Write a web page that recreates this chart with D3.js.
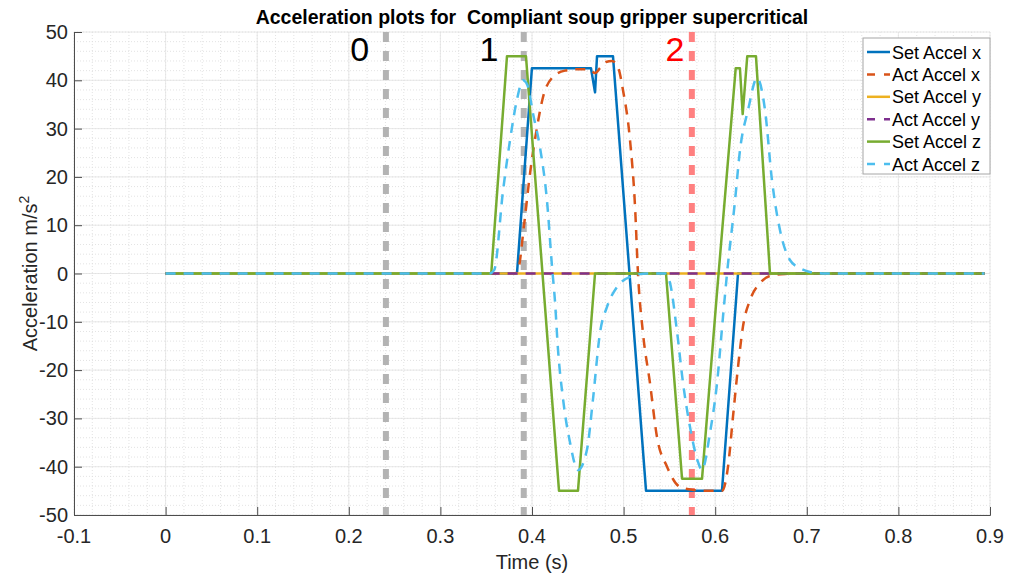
<!DOCTYPE html>
<html>
<head>
<meta charset="utf-8">
<script src="https://cdn.jsdelivr.net/npm/d3@7"></script>
<style>
  html, body { margin: 0; padding: 0; background: #fff; }
  svg { display: block; font-family: "Liberation Sans", Arial, sans-serif; }
</style>
</head>
<body>
<svg id="chart" width="1009" height="574"></svg>
<script>
// Time axis and acceleration axis tick values
const xTicks = [-0.1, 0, 0.1, 0.2, 0.3, 0.4, 0.5, 0.6, 0.7, 0.8, 0.9];
const yTicks = [-50, -40, -30, -20, -10, 0, 10, 20, 30, 40, 50];

// Commanded acceleration, x axis: [time s, accel m/s^2]
const setAccelX = [
  [0, 0], [0.3836, 0], [0.3999, 42.5], [0.4644, 42.5], [0.4688, 37.5],
  [0.4710, 45], [0.4884, 45], [0.5245, -45], [0.6074, -45], [0.6249, 0], [0.894, 0]
];
// Measured acceleration, x axis
const actAccelX = [
  [0, 0], [0.3815, 0], [0.3848, 0.7], [0.3913, 10], [0.3979, 20.8], [0.4055, 30.3],
  [0.4120, 36.5], [0.4229, 40.7], [0.4360, 42], [0.4523, 42.3], [0.4633, 42.2],
  [0.4688, 41.5], [0.4742, 42.5], [0.4808, 43.8], [0.4873, 44], [0.4939, 42.7],
  [0.4993, 38], [0.5070, 27.6], [0.5125, 13.8], [0.5157, 0], [0.5212, -12.4],
  [0.5288, -22.7], [0.5364, -33.8], [0.5474, -40], [0.5616, -44.2], [0.5757, -44.8],
  [0.5943, -45], [0.6074, -45], [0.6140, -40], [0.6194, -29.7], [0.6249, -19.4],
  [0.6303, -11], [0.6380, -5.5], [0.6489, -2], [0.6598, -0.5], [0.6762, -0.1],
  [0.6926, 0], [0.894, 0]
];
// Commanded and measured acceleration, y axis (no motion)
const setAccelY = [[0, 0], [0.894, 0]];
const actAccelY = [[0, 0], [0.894, 0]];
// Commanded acceleration, z axis
const setAccelZ = [
  [0, 0], [0.3555, 0], [0.3727, 45], [0.3934, 45], [0.4295, -45], [0.4502, -45],
  [0.4688, 0], [0.5463, 0], [0.5638, -42.5], [0.5856, -42.5], [0.6015, -5],
  [0.6224, 42.5], [0.6270, 42.5], [0.6300, 33], [0.6350, 45], [0.6445, 45],
  [0.6598, 0], [0.894, 0]
];
// Measured acceleration, z axis
const actAccelZ = [
  [0, 0], [0.3535, 0], [0.3587, 0.7], [0.3683, 17], [0.3760, 27.6], [0.3836, 36],
  [0.3901, 40], [0.3950, 39], [0.4012, 33], [0.4088, 26], [0.4164, 15], [0.4219, 1.3],
  [0.4250, -5.5], [0.4284, -15.8], [0.4339, -26], [0.4415, -35], [0.4502, -40.7],
  [0.4600, -36.5], [0.4666, -26], [0.4742, -12.3], [0.4819, -6.9], [0.4928, -2.8],
  [0.5070, -0.7], [0.5256, 0], [0.5452, 0], [0.5507, -2], [0.5583, -12],
  [0.5649, -22.7], [0.5725, -31.8], [0.5812, -39], [0.5856, -40.7], [0.5943, -33],
  [0.6020, -22.7], [0.6085, -9], [0.6129, 0], [0.6216, 15], [0.6271, 25.6],
  [0.6358, 33.8], [0.6457, 40.5], [0.6544, 33.8], [0.6620, 19.3], [0.6707, 9],
  [0.6816, 2.8], [0.6926, 1.1], [0.7035, 0.3], [0.7199, 0], [0.894, 0]
];

// Event markers and their numbered labels
const eventTimes = [0.2405, 0.391, 0.5745];
const eventLabelTimes = [0.212, 0.353, 0.556];
const eventLabels = ["0", "1", "2"];

const seriesNames = ["Set Accel x", "Act Accel x", "Set Accel y", "Act Accel y", "Set Accel z", "Act Accel z"];
const seriesData = [setAccelX, actAccelX, setAccelY, actAccelY, setAccelZ, actAccelZ];
const seriesColors = ["#0072BD", "#D95319", "#EDB120", "#7E2F8E", "#77AC30", "#4DBEEE"];
const seriesDashed = [false, true, false, true, false, true];
const seriesSmooth = [false, true, false, false, false, true];

const svg = d3.select("#chart");
const pL = 74, pR = 990, pT = 32, pB = 515;

const x = d3.scaleLinear().domain([-0.1, 0.9]).range([pL, pR]);
const y = d3.scaleLinear().domain([-50, 50]).range([pB, pT]);

const grid = svg.append("g");
// minor grid
const xMinor = d3.range(-0.1, 0.9001, 0.02).map(v => +v.toFixed(3));
const yMinor = d3.range(-50, 50.001, 2);
grid.selectAll(".xm").data(xMinor).enter().append("line")
  .attr("x1", d => x(d)).attr("x2", d => x(d)).attr("y1", pT).attr("y2", pB)
  .attr("stroke", "#dcdcdc").attr("stroke-width", 0.8).attr("stroke-dasharray", "1,2");
grid.selectAll(".ym").data(yMinor).enter().append("line")
  .attr("y1", d => y(d)).attr("y2", d => y(d)).attr("x1", pL).attr("x2", pR)
  .attr("stroke", "#dcdcdc").attr("stroke-width", 0.8).attr("stroke-dasharray", "1,2");
// major grid
grid.selectAll(".xM").data(xTicks).enter().append("line")
  .attr("x1", d => x(d)).attr("x2", d => x(d)).attr("y1", pT).attr("y2", pB)
  .attr("stroke", "#e2e2e2").attr("stroke-width", 0.8);
grid.selectAll(".yM").data(yTicks).enter().append("line")
  .attr("y1", d => y(d)).attr("y2", d => y(d)).attr("x1", pL).attr("x2", pR)
  .attr("stroke", "#e2e2e2").attr("stroke-width", 0.8);

// axes with inward ticks
const fmt = d => (d === 0 ? "0" : String(+d.toFixed(2)));
const xAxis = svg.append("g").attr("transform", `translate(0,${pB})`)
  .call(d3.axisTop(x).tickValues(xTicks).tickSize(8).tickFormat(""));
const yAxis = svg.append("g").attr("transform", `translate(${pL},0)`)
  .call(d3.axisRight(y).tickValues(yTicks).tickSize(8).tickFormat(""));
[xAxis, yAxis].forEach(g => {
  g.select(".domain").attr("stroke", "#4d4d4d").attr("stroke-width", 1);
  g.selectAll(".tick line").attr("stroke", "#4d4d4d").attr("stroke-width", 1);
});
svg.append("g").selectAll("text").data(xTicks).enter().append("text")
  .attr("x", d => x(d)).attr("y", pB + 28).attr("text-anchor", "middle")
  .attr("font-size", 20).attr("fill", "#262626").text(fmt);
svg.append("g").selectAll("text").data(yTicks).enter().append("text")
  .attr("x", pL - 6).attr("y", d => y(d) + 7).attr("text-anchor", "end")
  .attr("font-size", 20).attr("fill", "#262626").text(d => String(d));

// event marker lines
const plotArea = svg.append("g");
plotArea.selectAll(".ev").data(eventTimes).enter().append("line")
  .attr("x1", d => x(d)).attr("x2", d => x(d)).attr("y1", pT).attr("y2", pB)
  .attr("stroke", (d, i) => i === 2 ? "#ff8080" : "#b3b3b3")
  .attr("stroke-width", 6).attr("stroke-dasharray", "10,9");

// data lines
seriesData.forEach((data, i) => {
  const line = d3.line().x(d => x(d[0])).y(d => y(d[1]))
    .curve(seriesSmooth[i] ? d3.curveMonotoneX : d3.curveLinear);
  plotArea.append("path").datum(data)
    .attr("d", line).attr("fill", "none")
    .attr("stroke", seriesColors[i]).attr("stroke-width", 2.5)
    .attr("stroke-linejoin", "round")
    .attr("stroke-dasharray", seriesDashed[i] ? "10,8" : null);
});

// event labels
svg.selectAll(".evl").data(eventLabelTimes).enter().append("text")
  .attr("x", d => x(d)).attr("y", 61).attr("text-anchor", "middle")
  .attr("font-size", 34).attr("fill", (d, i) => i === 2 ? "#ff0000" : "#000")
  .text((d, i) => eventLabels[i]);

// title and axis labels
svg.append("text").attr("x", (pL + pR) / 2).attr("y", 24).attr("text-anchor", "middle")
  .attr("font-size", 19.5).attr("font-weight", "bold").attr("fill", "#000")
  .style("white-space", "pre")
  .text("Acceleration plots for  Compliant soup gripper supercritical");
svg.append("text").attr("x", (pL + pR) / 2).attr("y", 569).attr("text-anchor", "middle")
  .attr("font-size", 20).attr("fill", "#262626").text("Time (s)");
const yl = svg.append("text").attr("transform", `translate(37,${(pT + pB) / 2}) rotate(-90)`)
  .attr("text-anchor", "middle").attr("font-size", 20).attr("fill", "#262626");
yl.append("tspan").text("Acceleration m/s");
yl.append("tspan").attr("dy", -8).attr("font-size", 14).text("2");

// legend
const lg = svg.append("g");
lg.append("rect").attr("x", 863).attr("y", 38).attr("width", 127).attr("height", 136)
  .attr("fill", "#fff").attr("stroke", "#a6a6a6").attr("stroke-width", 1);
seriesNames.forEach((name, i) => {
  const cy = 52 + i * 22.4;
  lg.append("line").attr("x1", 867).attr("x2", 890).attr("y1", cy).attr("y2", cy)
    .attr("stroke", seriesColors[i]).attr("stroke-width", 2.5)
    .attr("stroke-dasharray", seriesDashed[i] ? "8,9" : null);
  lg.append("text").attr("x", 892).attr("y", cy + 6.5).attr("font-size", 18)
    .attr("fill", "#000").text(name);
});
</script>
</body>
</html>
